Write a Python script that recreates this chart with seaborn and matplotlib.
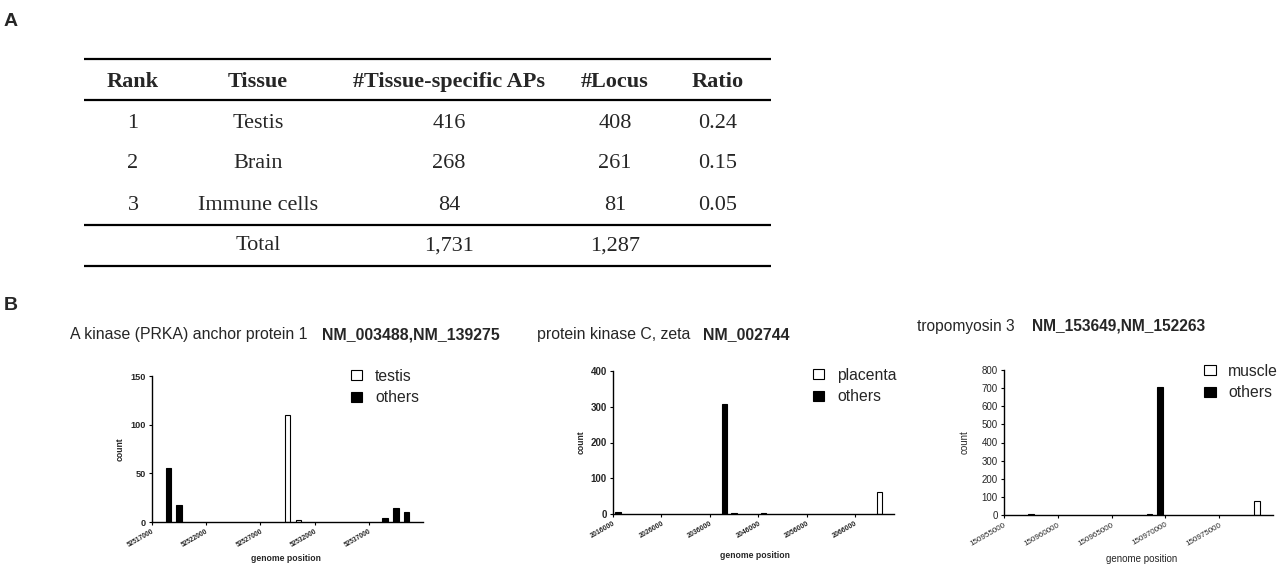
import matplotlib
matplotlib.use("Agg")
import matplotlib.pyplot as plt
from matplotlib.patches import Patch
import seaborn as sns
import pandas as pd

# ---------------- data ----------------
table_header = ["Rank", "Tissue", "#Tissue-specific APs", "#Locus", "Ratio"]
table_rank = ["1", "2", "3"]
table_tissue = ["Testis", "Brain", "Immune cells"]
table_aps = ["416", "268", "84"]
table_locus = ["408", "261", "81"]
table_ratio = ["0.24", "0.15", "0.05"]
table_total = ["", "Total", "1,731", "1,287", ""]

akap1_title = "A kinase (PRKA) anchor protein 1"
akap1_ids = "NM_003488,NM_139275"
akap1_pos = [52518500, 52519500, 52529500, 52530500, 52538500, 52539500, 52540500]
akap1_count = [55, 17, 110, 2, 4, 14, 10]
akap1_group = ["others", "others", "testis", "testis", "others", "others", "others"]
akap1_levels = ["testis", "others"]
akap1_xticks = [52517000, 52522000, 52527000, 52532000, 52537000]
akap1_yticks = [0, 50, 100, 150]

prkcz_title = "protein kinase C, zeta"
prkcz_ids = "NM_002744"
prkcz_pos = [2017000, 2039000, 2041000, 2047000, 2071000]
prkcz_count = [5, 308, 3, 2, 61]
prkcz_group = ["others", "others", "others", "others", "placenta"]
prkcz_levels = ["placenta", "others"]
prkcz_xticks = [2016000, 2026000, 2036000, 2046000, 2056000, 2066000]
prkcz_yticks = [0, 100, 200, 300, 400]

tpm3_title = "tropomyosin 3"
tpm3_ids = "NM_153649,NM_152263"
tpm3_pos = [150957500, 150968500, 150969500, 150978500]
tpm3_count = [3, 3, 707, 79]
tpm3_group = ["others", "others", "others", "muscle"]
tpm3_levels = ["muscle", "others"]
tpm3_xticks = [150955000, 150960000, 150965000, 150970000, 150975000]
tpm3_yticks = [0, 100, 200, 300, 400, 500, 600, 700, 800]

# ---------------- style ----------------
sns.set_style("ticks")
plt.rcParams["font.family"] = ["Liberation Sans", "DejaVu Sans"]

W, H = 1280, 565
fig = plt.figure(figsize=(W / 100, H / 100), dpi=100)

# overlay axes in pixel coordinates for table / titles / panel letters
ov = fig.add_axes([0, 0, 1, 1])
ov.set_xlim(0, W)
ov.set_ylim(H, 0)
ov.axis("off")

ov.text(11, 21, "A", fontsize=14, fontweight="bold", ha="center", va="center")
ov.text(11, 306, "B", fontsize=14, fontweight="bold", ha="center", va="center")

# ---- table ----
serif = ["Liberation Serif", "DejaVu Serif"]
col_x = [133, 258, 449, 615, 718]
for x, h in zip(col_x, table_header):
    ov.text(x, 82, h, family=serif, fontsize=16, fontweight="bold", ha="center", va="center")
row_y = [123, 164, 205]
for i, y in enumerate(row_y):
    vals = [table_rank[i], table_tissue[i], table_aps[i], table_locus[i], table_ratio[i]]
    for x, v in zip(col_x, vals):
        ov.text(x, y, v, family=serif, fontsize=16, ha="center", va="center")
for x, v in zip(col_x, table_total):
    if v:
        ov.text(x, 246, v, family=serif, fontsize=16, ha="center", va="center")
for y in [59, 100, 225, 266]:
    ov.plot([84, 771], [y, y], color="black", lw=1.6, solid_capstyle="butt")

# ---- titles ----
ov.text(70, 335, akap1_title, fontsize=11.4, ha="left", va="center")
ov.text(500, 335, akap1_ids, fontsize=11.4, fontweight="bold", ha="right", va="center")
ov.text(537, 335, prkcz_title, fontsize=11.4, ha="left", va="center")
ov.text(790, 335, prkcz_ids, fontsize=11.4, fontweight="bold", ha="right", va="center")
ov.text(917, 326, tpm3_title, fontsize=11.2, ha="left", va="center")
ov.text(1205, 326, tpm3_ids, fontsize=11.2, fontweight="bold", ha="right", va="center")


def px_axes(l, r, t, b):
    return [l / W, 1 - b / H, (r - l) / W, (b - t) / H]


def panel(rect, pos, count, group, levels, xticks, yticks, xlim, ylim, width,
          bold, ytick_fs, xtick_fs, lab_fs, ylab_x, xlab_x, xlab_y, leg_anchor):
    ax = fig.add_axes(px_axes(*rect))
    df = pd.DataFrame({"position": pos, "count": count, "group": group})
    sns.barplot(data=df, x="position", y="count", hue="group", hue_order=levels,
                palette={levels[0]: "white", levels[1]: "black"},
                native_scale=True, dodge=False, width=width, errorbar=None,
                edgecolor="black", linewidth=0.8, legend=False, ax=ax)
    ax.set_xlim(*xlim)
    ax.set_ylim(*ylim)
    wt = "bold" if bold else "normal"
    ax.set_yticks(yticks)
    ax.set_yticklabels([str(v) for v in yticks], fontsize=ytick_fs, fontweight=wt)
    ax.set_xticks(xticks)
    ax.set_xticklabels([str(v) for v in xticks], fontsize=xtick_fs, fontweight=wt,
                       rotation=30, ha="right", rotation_mode="anchor")
    ax.tick_params(axis="both", length=2.5, width=0.8, pad=2, color="black")
    for s in ["top", "right"]:
        ax.spines[s].set_visible(False)
    for s in ["left", "bottom"]:
        ax.spines[s].set_linewidth(1.0)
        ax.spines[s].set_color("black")
    ax.set_ylabel("count", fontsize=lab_fs, fontweight=wt)
    ax.set_xlabel("genome position", fontsize=lab_fs, fontweight=wt)
    ax.yaxis.set_label_coords(ylab_x, 0.5)
    ax.yaxis.label.set_va("center")
    ax.xaxis.set_label_coords(xlab_x, xlab_y)
    ax.xaxis.label.set_va("center")
    handles = [Patch(facecolor="white", edgecolor="black", linewidth=0.8, label=levels[0]),
               Patch(facecolor="black", edgecolor="black", linewidth=0.8, label=levels[1])]
    ax.legend(handles=handles, loc="upper left",
              bbox_to_anchor=(leg_anchor[0] / W, 1 - leg_anchor[1] / H),
              bbox_transform=fig.transFigure, frameon=False, fontsize=11.3,
              borderpad=0, borderaxespad=0, handlelength=0.75, handleheight=0.6,
              handletextpad=0.8, labelspacing=0.4)
    return ax


panel((152, 423, 376, 522), akap1_pos, akap1_count, akap1_group, akap1_levels,
      akap1_xticks, akap1_yticks, (52517000, 52542000), (0, 150), 0.5,
      True, 6.6, 4.8, 6.2, -0.118, 0.493, -0.253, (350.7, 369))
panel((613, 894, 371, 514), prkcz_pos, prkcz_count, prkcz_group, prkcz_levels,
      prkcz_xticks, prkcz_yticks, (2016000, 2074000), (0, 400), 0.55,
      True, 7, 5, 6.2, -0.114, 0.504, -0.287, (812.7, 368))
panel((1004, 1273, 370, 515), tpm3_pos, tpm3_count, tpm3_group, tpm3_levels,
      tpm3_xticks, tpm3_yticks, (150955000, 150980000), (0, 800), 0.5,
      False, 7, 5.8, 7, -0.145, 0.513, -0.303, (1204, 364))

fig.savefig("out.png", dpi=100)
